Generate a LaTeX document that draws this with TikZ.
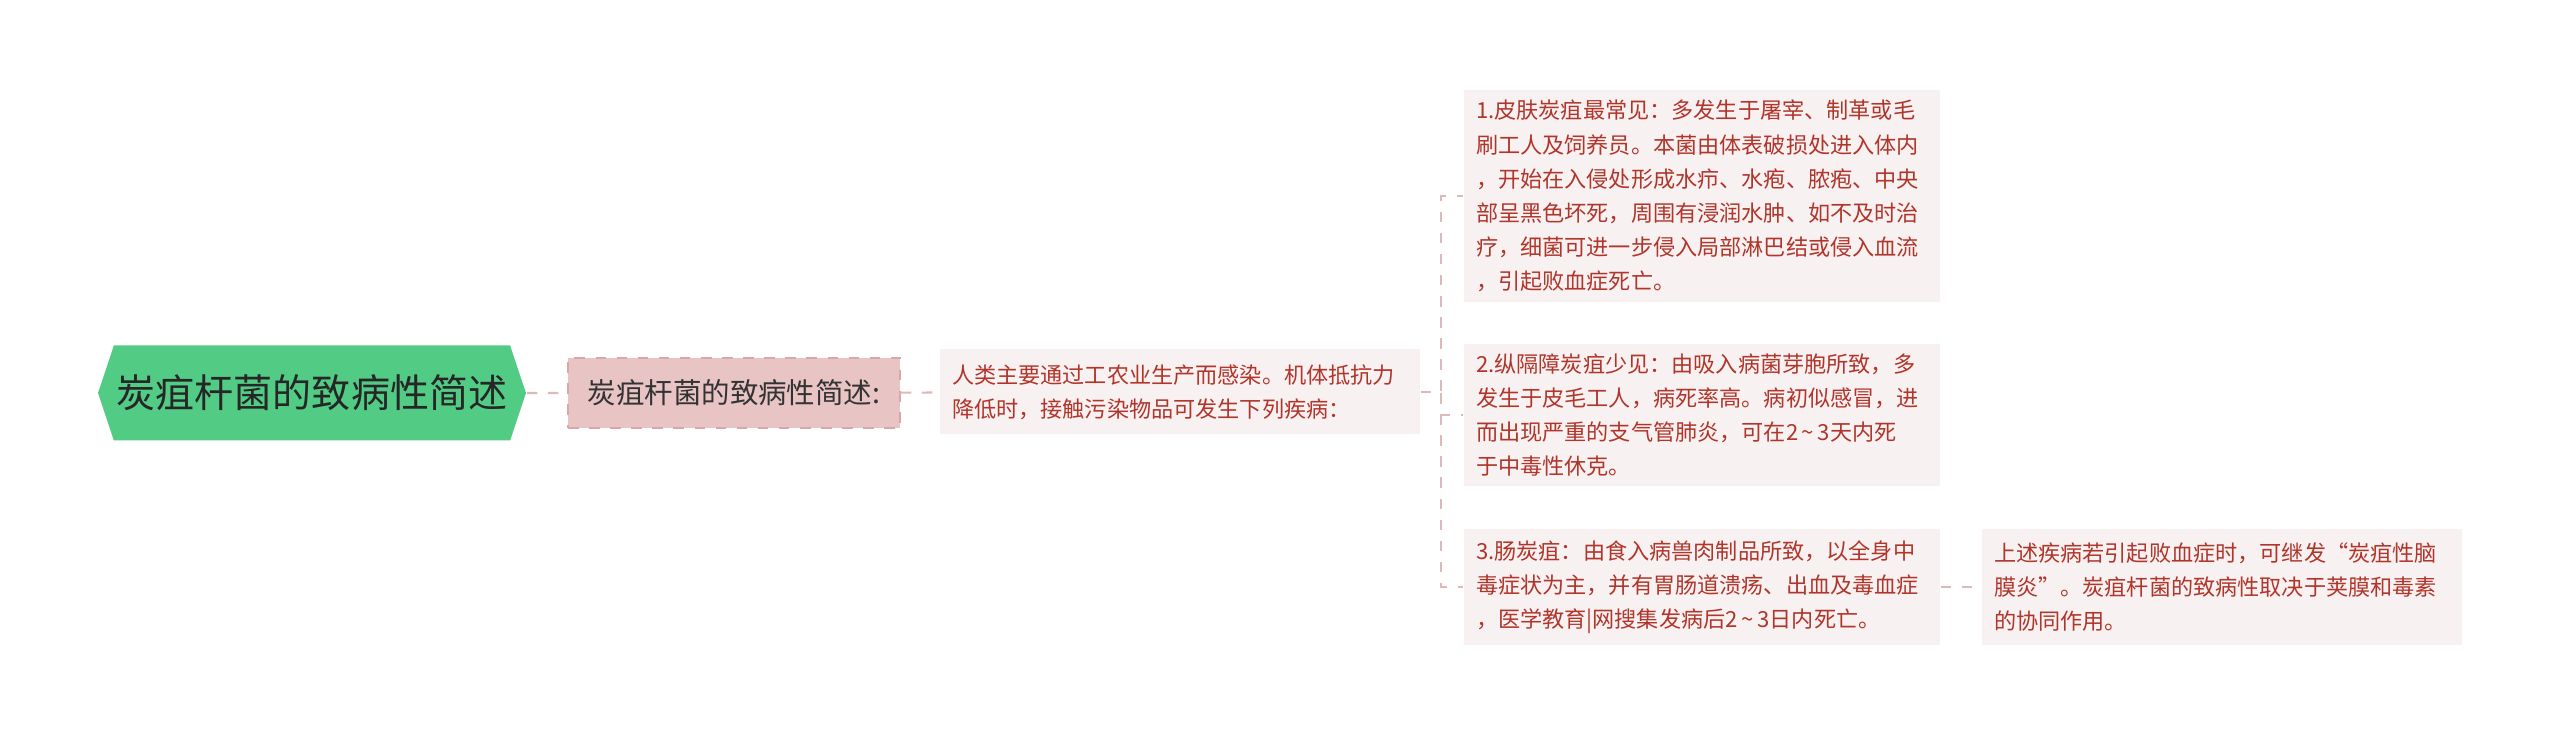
\documentclass[tikz,border=0pt]{standalone}
\usepackage{fontspec}
\setmainfont{Noto Sans CJK SC}
\usepackage{xcolor}
\usepackage{tikz}
\usetikzlibrary{positioning, shapes, shapes.symbols, calc}

\definecolor{rootgreen}{HTML}{52CB85}
\definecolor{labelpink}{HTML}{E9C4C4}
\definecolor{labeledge}{HTML}{D8A8A8}
\definecolor{notefill}{HTML}{F8F1F1}
\definecolor{notetext}{HTML}{B0352B}
\definecolor{linkpink}{HTML}{DDB9B9}

\newcommand{\daysep}{\,\textasciitilde\,}

\begin{document}
\begin{tikzpicture}[
    rootbox/.style={shape=signal, signal to=west and east, signal pointer angle=143,
      fill=rootgreen, minimum width=4.28cm, minimum height=0.95cm, inner sep=0pt,
      text=black!85, font=\fontsize{11.1pt}{13pt}\selectfont},
    labelbox/.style={draw=labeledge, dashed, fill=labelpink, minimum width=3.32cm,
      minimum height=0.7cm, text=black!80, font=\fontsize{8.1pt}{10pt}\selectfont},
    notebox/.style={fill=notefill, text=notetext, align=left, text width=#1,
      inner xsep=0.12cm, inner ysep=0.1cm, font=\fontsize{6.3pt}{9.7pt}\selectfont},
    notebox/.default=4.52cm,
    link/.style={draw=linkpink, dashed, line width=0.6pt},
  ]
      \useasboundingbox (0,0) rectangle (25.6,-7.43);

      \node[rootbox] (root) at (3.12,-3.93) {炭疽杆菌的致病性简述};
      \node[labelbox] (label) at (7.34,-3.93) {炭疽杆菌的致病性简述:};
      \node[notebox=4.56cm, minimum height=0.85cm] (intro) at (11.80,-3.92)
        {人类主要通过工农业生产而感染。机体抵抗力\\降低时，接触污染物品可发生下列疾病：};

      \node[notebox, minimum height=2.02cm] (skin) at (17.02,-1.96)
        {1.皮肤炭疽最常见：多发生于屠宰、制革或毛\\刷工人及饲养员。本菌由体表破损处进入体内\\，开始在入侵处形成水疖、水疱、脓疱、中央\\部呈黑色坏死，周围有浸润水肿、如不及时治\\疗，细菌可进一步侵入局部淋巴结或侵入血流\\，引起败血症死亡。};
      \node[notebox, minimum height=1.39cm] (lung) at (17.02,-4.15)
        {2.纵隔障炭疽少见：由吸入病菌芽胞所致，多\\发生于皮毛工人，病死率高。病初似感冒，进\\而出现严重的支气管肺炎，可在2\daysep 3天内死\\于中毒性休克。};
      \node[notebox, minimum height=1.16cm] (gut) at (17.02,-5.87)
        {3.肠炭疽：由食入病兽肉制品所致，以全身中\\毒症状为主，并有胃肠道溃疡、出血及毒血症\\，医学教育|网搜集发病后2\daysep 3日内死亡。};
      \node[notebox=4.56cm, minimum height=1.16cm] (sepsis) at (22.22,-5.87)
        {上述疾病若引起败血症时，可继发“炭疽性脑\\膜炎”。炭疽杆菌的致病性取决于荚膜和毒素\\的协同作用。};

      \draw[link] (root) -- (label);
      \draw[link] (label) -- (intro);
      \draw[link] (intro.east) -- ++(0.2,0) |- (skin.west);
      \draw[link] (intro.east) -- ++(0.2,0) |- (lung.west);
      \draw[link] (intro.east) -- ++(0.2,0) |- (gut.west);
      \draw[link] (gut) -- (sepsis);
    \end{tikzpicture}
\end{document}
